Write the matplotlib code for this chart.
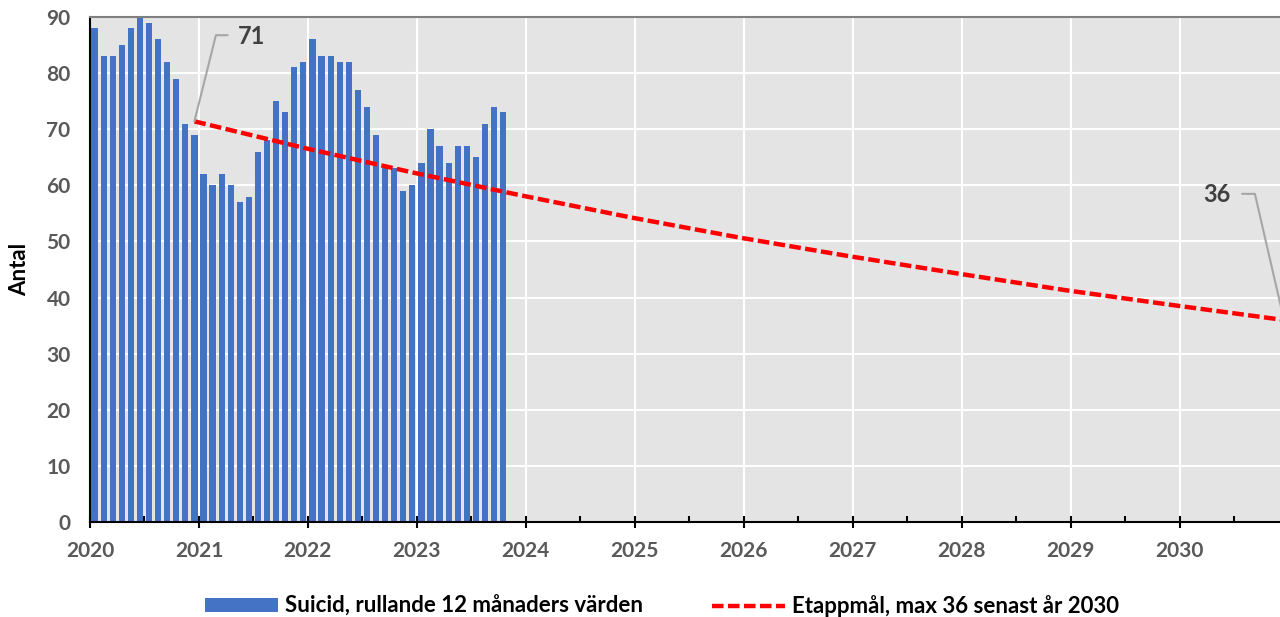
import matplotlib
matplotlib.use("Agg")
import matplotlib.pyplot as plt
import numpy as np

plt.rcParams['font.family'] = ['Lato', 'DejaVu Sans']

# suicid, rullande 12 mån, jan 2020 - okt 2023
suicid = [88, 83, 83, 85, 88, 90, 89, 86, 82, 79, 71, 69,
          62, 60, 62, 60, 57, 58, 66, 68, 75, 73, 81, 82,
          86, 83, 83, 82, 82, 77, 74, 69, 63, 63, 59, 60,
          64, 70, 67, 64, 67, 67, 65, 71, 74, 73]
# etappmål, avläst i december varje år
mal_ar = list(range(2020, 2031))
mal = [71.4, 66.7, 62.3, 58.2, 54.3, 50.7, 47.4, 44.3, 41.3, 38.6, 36.0]
years = [str(y) for y in range(2020, 2031)]

bar_x = np.arange(len(suicid)) + 0.5          # month index from jan 2020
mal_x = [(y - 2020) * 12 + 11.5 for y in mal_ar]

fig = plt.figure(figsize=(12.8, 6.17), dpi=100)
ax = fig.add_axes([90 / 1280, 95 / 617, 1194 / 1280, 505 / 617])
ax.set_facecolor('#e4e4e4')

bars = ax.bar(bar_x, suicid, width=0.68, color='#4472c4', zorder=2,
              label='Suicid, rullande 12 månaders värden')
line, = ax.plot(mal_x, mal, color='red', lw=3.2, ls=(0, (2.6, 1.0)), zorder=3,
                label='Etappmål, max 36 senast år 2030')

ax.set_xlim(0, 131.5)
ax.set_ylim(0, 90)
ax.set_xticks(np.arange(0, 121, 12))
ax.set_xticklabels(years)
ax.set_xticks(np.arange(6, 127, 12), minor=True)
ax.set_yticks(range(0, 91, 10))
ax.set_axisbelow(True)
ax.grid(True, which='major', color='white', lw=1.5)

ax.tick_params(axis='x', which='major', direction='inout', length=9, width=1.5,
               color='black', pad=9, labelsize=15, labelcolor='#595959')
ax.tick_params(axis='x', which='minor', direction='in', length=4, width=1.5)
ax.tick_params(axis='y', length=0, pad=14, labelsize=15, labelcolor='#595959')
for lbl in ax.get_xticklabels() + ax.get_yticklabels():
    lbl.set_fontweight('bold')

for s in ['left', 'bottom']:
    ax.spines[s].set_color('black')
    ax.spines[s].set_linewidth(1.5)
ax.spines['top'].set_color('#7f7f7f')
ax.spines['top'].set_linewidth(1.5)
ax.spines['right'].set_visible(False)

ax.set_ylabel('Antal', fontsize=16, fontweight='bold', color='black')
ax.yaxis.set_label_coords(-0.050, 0.5)

# data labels at start and end of target line
ax.annotate(f'{round(mal[0])}', xy=(mal_x[0], mal[0]), xytext=(43, 85),
            textcoords='offset pixels', ha='left', va='center', fontsize=17,
            fontweight='bold', color='#404040', annotation_clip=False,
            arrowprops=dict(arrowstyle='-', color='#a6a6a6', lw=1.5, relpos=(0, 0.55),
                            shrinkA=5, shrinkB=0,
                            connectionstyle='angle,angleA=0,angleB=76,rad=0'))
ax.annotate(f'{round(mal[-1])}', xy=(mal_x[-1], mal[-1]), xytext=(-53, 125),
            textcoords='offset pixels', ha='right', va='center', fontsize=17,
            fontweight='bold', color='#404040', annotation_clip=False,
            arrowprops=dict(arrowstyle='-', color='#a6a6a6', lw=1.5, relpos=(1, 0.55),
                            shrinkA=6, shrinkB=0,
                            connectionstyle='angle,angleA=0,angleB=103,rad=0'))

fig.legend([bars, line], [bars.get_label(), line.get_label()],
           loc='center', bbox_to_anchor=(662 / 1280, 11 / 617), ncol=2, frameon=False,
           prop=dict(weight='bold', size=16), handlelength=3.3, handleheight=0.6,
           columnspacing=3.1, handletextpad=0.3)

fig.savefig('out.png', dpi=100)
